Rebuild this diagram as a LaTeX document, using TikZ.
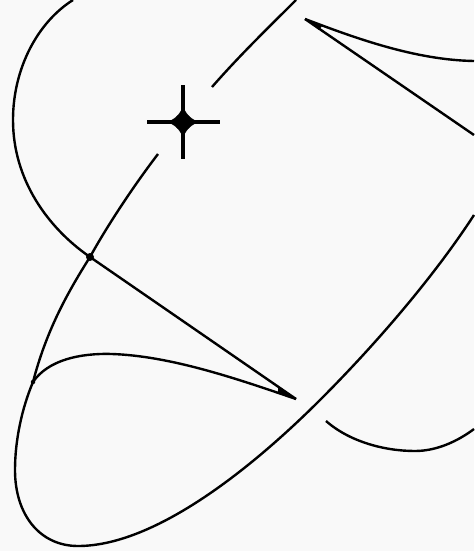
\documentclass[tikz,border=0pt]{standalone}
\tikzset{
  curveline/.style={line width=2.4pt,black},
  blob/.style={circle,fill=black,inner sep=0pt,minimum size=#1},
}
\begin{document}
\begin{tikzpicture}[x=1pt,y=-1pt]
\fill[black!2.5] (0,0) rectangle (474,551);
\useasboundingbox (0,0) rectangle (474,551);
\coordinate (topA) at (73,0);
\coordinate (P) at (90,257);
\coordinate (tipL) at (296,399);
\coordinate (cuspL) at (33,382);
\coordinate (gapA) at (158,154);
\coordinate (gapB) at (212,87);
\coordinate (topB) at (296,0);
\coordinate (tipR) at (305,19);
\coordinate (rightA) at (474,61);
\coordinate (rightB) at (474,135);
\coordinate (rightC) at (474,215);
\coordinate (loopS) at (326,421);
\coordinate (rightD) at (474,429);
\coordinate (C) at (183,122);
% left arc
\draw[curveline] (topA) .. controls (38,22) and (13,68) .. (13,120)
  .. controls (13,180) and (48,228) .. (P);
% straight edge to lower tip
\draw[curveline] (P) -- (tipL);
% rising strand
\draw[curveline] (cuspL) .. controls (46,332) and (66,295) .. (P)
  .. controls (106,228) and (132,188) .. (gapA);
\draw[curveline] (gapB) .. controls (240,55) and (268,28) .. (topB);
% arch
\draw[curveline] (cuspL) .. controls (48,360) and (80,353) .. (112,354)
  .. controls (170,356) and (235,378) .. (tipL);
% big loop
\draw[curveline] (cuspL) .. controls (22,408) and (15,440) .. (15,470)
  .. controls (15,515) and (40,546) .. (78,546)
  .. controls (160,546) and (262,458) .. (320,400)
  .. controls (378,342) and (435,275) .. (rightC);
% upper right wedge
\draw[curveline] (tipR) .. controls (355,38) and (415,60) .. (rightA);
\draw[curveline] (tipR) -- (rightB);
% lower right arc
\draw[curveline] (loopS) .. controls (350,442) and (385,451) .. (415,451)
  .. controls (437,451) and (458,441) .. (rightD);
% junctions
\node[blob=8pt] (Pdot) at (P) {};
\node[blob=4.5pt] (cuspdot) at (cuspL) {};
\fill[black] (tipL) -- (278,386) -- (278,393) -- cycle;
\fill[black] (tipR) -- (322,26) -- (319,30) -- cycle;
% star marker
\draw[line width=3.2pt,black] (147,122) -- (220,122);
\draw[line width=3.2pt,black] (183,85) -- (183,159);
\begin{scope}[shift={(C)}]
\fill[black] (-18,0) .. controls (-9,-1) and (-1,-9) .. (0,-18)
  .. controls (1,-9) and (9,-1) .. (18,0)
  .. controls (9,1) and (1,9) .. (0,18)
  .. controls (-1,9) and (-9,1) .. (-18,0) -- cycle;
\end{scope}
\node[blob=17pt] (Cdot) at (C) {};
\end{tikzpicture}
\end{document}
